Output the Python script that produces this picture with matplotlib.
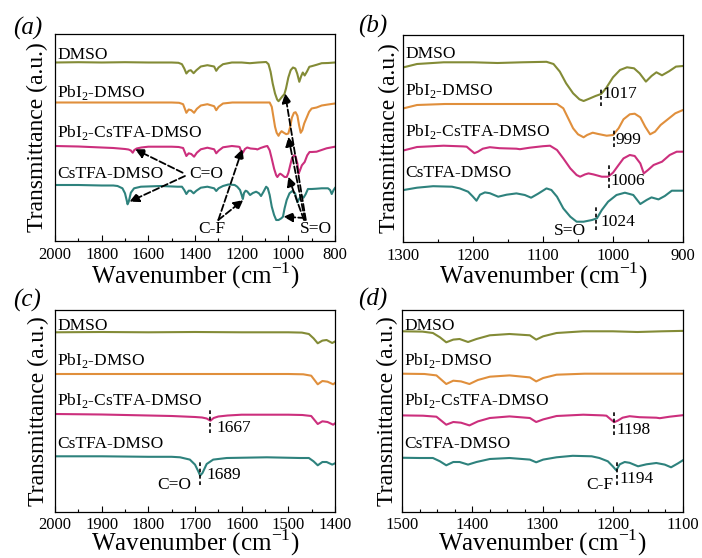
import matplotlib
matplotlib.use('Agg')
import matplotlib.pyplot as plt
from matplotlib.ticker import MultipleLocator

plt.rcParams['font.family'] = ['Liberation Serif', 'DejaVu Serif']
plt.rcParams['mathtext.fontset'] = 'custom'
plt.rcParams['mathtext.rm'] = 'Liberation Serif'

names = ['DMSO', 'PbI$_{\\mathregular{2}}$-DMSO', 'PbI$_{\\mathregular{2}}$-CsTFA-DMSO', 'CsTFA-DMSO']
colors = ['#838b36', '#e08f3c', '#cc2f7d', '#2e827d']

# spectra (wavenumber, transmittance a.u., baseline = 0)
wn_dmso = [2000, 1900, 1800, 1700, 1600, 1500, 1471, 1456, 1446, 1437, 1427, 1418, 1406, 1394, 1375,
           1347, 1318, 1309, 1299, 1280, 1242, 1200, 1165, 1130, 1095, 1085, 1076, 1067, 1057, 1048,
           1042, 1035, 1025, 1017, 1010, 1000, 990, 980, 970, 962, 953, 945, 938, 930, 920, 910, 900,
           879, 857, 830, 800]
t_dmso = [0, 0.3, 0, 0.3, 0, 0, -0.3, -1.7, -6, -11, -8.3, -7.7, -10.7, -7.7, -4,
          -2.7, -4, -8.3, -5, -1.7, 0, 0, -0.7, 0, 0.5, -1.7, -9.3, -21, -31, -37,
          -38.7, -36.7, -33.7, -31.7, -26, -15, -7.7, -5, -6, -11, -19.3, -13.7, -10, -13, -9, -4.3, -3.7,
          -2.3, -0.7, -0.5, 0]

wn_pbi2 = [2000, 1900, 1800, 1700, 1600, 1500, 1468, 1451, 1437, 1427, 1416, 1404, 1392, 1375, 1347,
           1318, 1309, 1299, 1280, 1240, 1200, 1150, 1080, 1071, 1064, 1057, 1050, 1042, 1037, 1029,
           1021, 1009, 1000, 992, 985, 976, 969, 961, 954, 947, 940, 932, 923, 911, 900,
           879, 857, 830, 800]
t_pbi2 = [0, 0, 0, 0, 0, 0, -0.3, -1.7, -10.3, -7, -7.7, -10.3, -6.3, -3, -1.7,
          -3.7, -7.7, -4.3, -1, 0, 0, 0, 0, -4.3, -14.3, -24.3, -30.3, -33.3, -31, -28.7,
          -30, -31.7, -31, -24.3, -15.3, -10.3, -9.7, -13.3, -22.7, -30.3, -27.7, -21, -16, -9.3, -6,
          -5, -3, -2, -1]

wn_mix = [2000, 1900, 1800, 1750, 1700, 1685, 1675, 1667, 1660, 1650, 1630, 1600, 1500, 1470, 1451,
          1437, 1427, 1416, 1404, 1392, 1375, 1347, 1318, 1309, 1299, 1280, 1242, 1214, 1209, 1204,
          1198, 1193, 1186, 1176, 1162, 1138, 1133, 1119, 1100, 1090, 1080, 1071, 1061, 1052, 1047,
          1040, 1035, 1028, 1016, 1007, 1000, 992, 985, 976, 969, 961, 956, 950, 942, 930,
          919, 909, 900, 879, 836, 800]
t_mix = [0, -0.5, -1.5, -2, -3, -3.5, -4.5, -6.7, -4, -2.5, -1.5, -0.7, -0.7, -1, -2,
         -10, -7.3, -8, -10.7, -6.7, -3.3, -1.7, -3.3, -7.3, -4.7, -1.3, 0, -0.7, -1, -4,
         -7.5, -6, -3, -1.5, -2.5, -3, -3.5, -2, -0.5, 0, -4.3, -12.7, -22.7, -29.3, -31,
         -28.7, -27.7, -28.7, -31, -31, -27, -19.3, -12.7, -9.3, -10.3, -17.7, -27.7, -24.3, -19.3, -16,
         -9.3, -6, -6, -5.7, -2.3, -0.7]

wn_cstfa = [2000, 1900, 1800, 1750, 1732, 1711, 1700, 1693, 1689, 1684, 1675, 1661, 1632, 1546, 1475,
            1456, 1446, 1437, 1427, 1418, 1406, 1394, 1375, 1347, 1318, 1309, 1299, 1280, 1257, 1230,
            1219, 1207, 1200, 1195, 1190, 1183, 1176, 1164, 1152, 1138, 1126, 1117, 1107, 1095, 1088,
            1080, 1071, 1061, 1052, 1042, 1030, 1023, 1016, 1007, 995, 983, 971, 961, 952, 945,
            935, 926, 916, 900, 879, 857, 830, 821, 814, 806, 800]
t_cstfa = [0, 0, -0.5, -0.5, -1, -3.3, -8.3, -15, -19.3, -16.7, -7.7, -3.3, -1.7, -1, -1.7,
           -1.7, -5, -9, -5.7, -5.7, -8.3, -5.7, -2.7, -1.7, -3.3, -6, -3.3, -1, 0.5, 0,
           -1.7, -5, -10, -14, -8, -5.7, -6.5, -10, -8, -6.7, -8.3, -11, -7, -1.7, -3.3,
           -10, -21.7, -30, -35, -35, -33.3, -31.7, -23.3, -15, -8.3, -6, -8.3, -17.3, -13.3, -10.7,
           -12.7, -9.3, -4, -4, -3.7, -3.3, -3.3, -5, -9, -5, -3]

spectra = [(wn_dmso, t_dmso), (wn_pbi2, t_pbi2), (wn_mix, t_mix), (wn_cstfa, t_cstfa)]

# per panel settings
panel_tags = ['(a)', '(b)', '(c)', '(d)']
xlims = [(2000, 800), (1300, 900), (2000, 1400), (1500, 1100)]
major_step = [200, 100, 100, 100]
minor_step = [100, 50, 50, 25]
offsets = [[178.5, 138.5, 95, 56],
           [179.7, 138, 96.3, 55.3],
           [179.7, 138, 98, 55.7],
           [180.7, 138.3, 97.3, 55.7]]
label_y = [[181.7, 144.3, 104.3, 63],
           [183.7, 147, 106, 64.7],
           [182.3, 146.7, 106.7, 64],
           [182.3, 146.7, 106.7, 64]]
# axes boxes in pixels: left, top, right, bottom
boxes = [(55, 34, 335, 241), (403, 35, 683, 242), (55, 309.5, 335, 512), (402, 309.5, 683, 512)]
tag_pos = [(13, 35), (358, 33), (13, 307), (358, 306)]
ylabel_pad = [5, 2, 4, 3]
xlabel_base = [284, 284, 551, 551]
tick_pad = [4, 4, 3.5, 3.5]

W, H = 702, 558
fig = plt.figure(figsize=(W / 100, H / 100), dpi=100)
axes = []
for i in range(4):
    l, t, r, b = boxes[i]
    ax = fig.add_axes([l / W, 1 - b / H, (r - l) / W, (b - t) / H])
    for j in range(4):
        wn, tr = spectra[j]
        ax.plot(wn, [v + offsets[i][j] for v in tr], color=colors[j], lw=1.5)
        ax.text(0.008, label_y[i][j], names[j], transform=ax.get_yaxis_transform(),
                fontsize=12.5, va='baseline', ha='left')
    ax.set_xlim(*xlims[i])
    ax.set_ylim(0, b - t)
    ax.xaxis.set_major_locator(MultipleLocator(major_step[i]))
    ax.xaxis.set_minor_locator(MultipleLocator(minor_step[i]))
    ax.tick_params(axis='x', which='both', direction='in', labelsize=12, pad=tick_pad[i], width=0.8)
    ax.tick_params(axis='x', which='major', length=4)
    ax.tick_params(axis='x', which='minor', length=2.5)
    ax.tick_params(axis='y', left=False, labelleft=False)
    for s in ax.spines.values():
        s.set_linewidth(0.9)
    ax.set_xlabel('Wavenumber (cm$^{\\mathregular{-1}}$)', fontsize=18, va='baseline')
    ax.xaxis.set_label_coords(0.5, -(xlabel_base[i] - b) / (b - t))
    ax.set_ylabel('Transmittance (a.u.)', fontsize=17, labelpad=ylabel_pad[i])
    fig.text(tag_pos[i][0] / W, 1 - tag_pos[i][1] / H, panel_tags[i], fontsize=18,
             style='italic', va='baseline')
    axes.append(ax)

dash = (0, (2.2, 1.6))
arrow = dict(arrowstyle='-|>', linestyle='--', color='k', lw=1.3, mutation_scale=14,
             shrinkA=0, shrinkB=0)

# (a) assignment arrows
ax = axes[0]
co_starts = [(1453, 68.3), (1443, 65)]
co_ends = [(1657, 91.7), (1681, 39.3)]
cf_starts = [(1300, 21), (1300, 21)]
cf_ends = [(1197, 92), (1193, 41)]
so_starts = [(925, 21), (929, 21), (933, 21), (929, 23)]
so_ends = [(1014, 147.7), (1000, 104.3), (1000, 64.3), (1021, 24.3)]
for s, e in zip(co_starts + cf_starts + so_starts, co_ends + cf_ends + so_ends):
    ax.annotate('', xy=e, xytext=s, arrowprops=arrow)
ax.text(1350, 67, 'C=O', fontsize=12.5, ha='center', va='center')
ax.text(1329, 11.7, 'C-F', fontsize=12.5, ha='center', va='center')
ax.text(881, 11.7, 'S=O', fontsize=12.5, ha='center', va='center')

# (b) S=O peak markers
ax = axes[1]
b_peaks = [1017, 999, 1006, 1024]
b_lines = [(136, 154.7), (95.3, 112.7), (53.7, 78.7), (12, 34.7)]
b_text_x = [1014.7, 997, 1003, 1017.6]
b_text_y = [148, 102, 61, 20.3]
for p, (y0, y1), tx, ty in zip(b_peaks, b_lines, b_text_x, b_text_y):
    ax.plot([p, p], [y0, y1], color='k', lw=1.2, ls=dash)
    ax.text(tx, ty, str(p), fontsize=12.5, ha='left', va='center')
ax.text(1061, 11.3, 'S=O', fontsize=12.5, ha='center', va='center')

# (c) C=O markers
ax = axes[2]
c_peaks = [1667, 1689]
c_lines = [(79, 104), (27.3, 51.3)]
c_text_x = [1654, 1675]
c_text_y = [84, 37.3]
for p, (y0, y1), tx, ty in zip(c_peaks, c_lines, c_text_x, c_text_y):
    ax.plot([p, p], [y0, y1], color='k', lw=1.2, ls=dash)
    ax.text(tx, ty, str(p), fontsize=12.5, ha='left', va='center')
ax.text(1745, 26.7, 'C=O', fontsize=12.5, ha='center', va='center')

# (d) C-F markers
ax = axes[3]
d_peaks = [1198, 1194]
d_lines = [(77.3, 101), (27.3, 52.3)]
d_text_x = [1195, 1190]
d_text_y = [82.3, 33.3]
for p, (y0, y1), tx, ty in zip(d_peaks, d_lines, d_text_x, d_text_y):
    ax.plot([p, p], [y0, y1], color='k', lw=1.2, ls=dash)
    ax.text(tx, ty, str(p), fontsize=12.5, ha='left', va='center')
ax.text(1219, 26.7, 'C-F', fontsize=12.5, ha='center', va='center')

fig.savefig('out.png', dpi=100)
